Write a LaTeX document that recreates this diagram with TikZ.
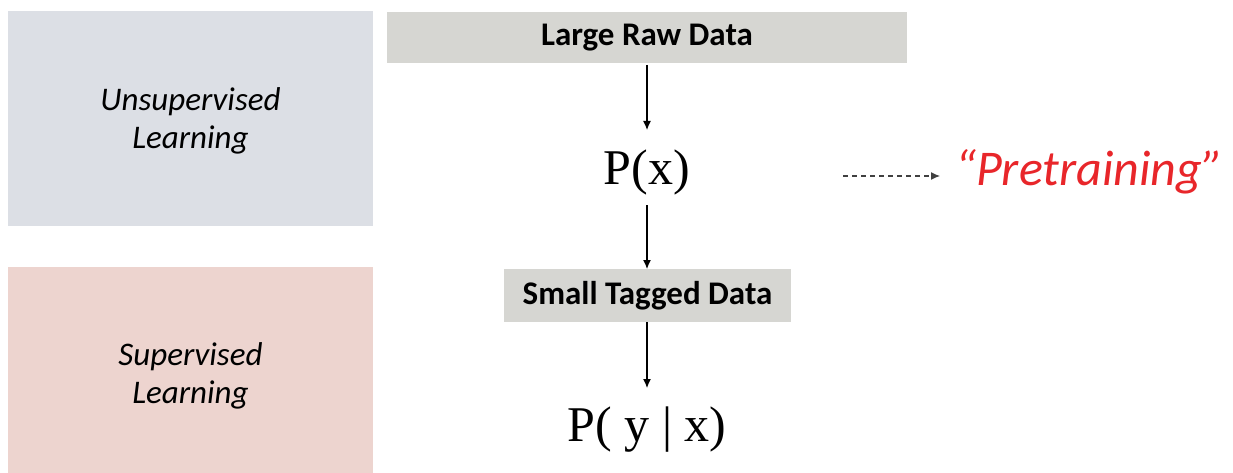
\documentclass[tikz,border=0pt]{standalone}
\usepackage{fontspec}
\setmainfont{Carlito}
\newfontfamily\serifmath{Liberation Serif}
\usetikzlibrary{arrows.meta}
\definecolor{unsupbg}{HTML}{DCDFE5}
\definecolor{supbg}{HTML}{EDD4CF}
\definecolor{databg}{HTML}{D6D6D2}
\definecolor{pretrainred}{HTML}{E8262A}
\begin{document}
\begin{tikzpicture}[x=1pt,y=-1pt,
  panellabel/.style={inner sep=0pt,align=center,font=\fontsize{33}{38}\selectfont\itshape},
  databox/.style={fill=databg,draw=none,inner sep=0pt,
    font=\fontsize{33}{38}\selectfont\bfseries},
  prob/.style={inner sep=0pt,font=\serifmath\fontsize{50}{56}\selectfont},
  flow/.style={-{Latex[length=9pt,width=8pt]},line width=1.2pt},
  hint/.style={-{Latex[length=9pt,width=8pt]},line width=1.2pt,dash pattern=on 5pt off 4pt,draw=black!75}
]
\useasboundingbox (0,0) rectangle (1233,473);
% learning-type panels
\fill[unsupbg] (8,11) rectangle (373,226);
\fill[supbg] (8,267) rectangle (373,473);
\node[panellabel] (unsup) at (190.5,121) {Unsupervised\\Learning};
\node[panellabel] (sup) at (190.5,376) {Supervised\\Learning};
% data flow
\node[databox,minimum width=520pt,minimum height=51pt] (raw) at (647,37.5) {Large Raw Data};
\node[prob] (px) at (647,172) {P(x)};
\node[databox,minimum width=287pt,minimum height=53pt] (small) at (647.5,295.5) {Small Tagged Data};
\node[prob] (pyx) at (647,430) {P( y | x)};
\draw[flow] (647,65) -- (647,130);
\draw[flow] (647,205) -- (647,269);
\draw[flow] (647,322) -- (647,388);
% pretraining label
\node[inner sep=0pt,text=pretrainred,font=\fontsize{50}{58}\selectfont\itshape,anchor=west] (pre) at (955,172) {“Pretraining”};
\coordinate (dashstart) at (843,176);
\draw[hint] (dashstart) -- (940,176);
\end{tikzpicture}
\end{document}
